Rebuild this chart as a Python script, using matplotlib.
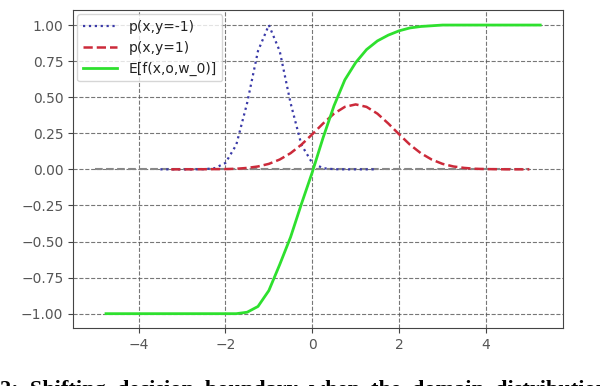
import matplotlib
matplotlib.use("Agg")
import matplotlib.pyplot as plt

# p(x, y=-1): values
x_neg = [-3.5, -3.25, -3.0, -2.75, -2.5, -2.25, -2.0, -1.75, -1.5, -1.25, -1.0,
         -0.75, -0.5, -0.25, 0.0, 0.25, 0.5, 0.75, 1.0, 1.25, 1.5]
p_neg = [0.0, 0.0, 0.0, 0.0, 0.001, 0.008, 0.044, 0.17, 0.46, 0.82, 1.0,
         0.82, 0.46, 0.17, 0.044, 0.008, 0.001, 0.0, 0.0, 0.0, 0.0]

# p(x, y=1): values
x_pos = [-3.25, -3.0, -2.5, -2.0, -1.75, -1.5, -1.25, -1.0, -0.75, -0.5, -0.25, 0.0,
         0.25, 0.5, 0.75, 1.0, 1.25, 1.5, 1.75, 2.0, 2.25, 2.5, 2.75, 3.0,
         3.25, 3.5, 3.75, 4.0, 4.5, 5.0]
p_pos = [0.0, 0.0, 0.001, 0.002, 0.004, 0.01, 0.02, 0.038, 0.068, 0.112, 0.171, 0.243,
         0.318, 0.386, 0.433, 0.45, 0.433, 0.386, 0.318, 0.243, 0.171, 0.112, 0.068, 0.038,
         0.02, 0.01, 0.004, 0.002, 0.0, 0.0]

# E[f(x,o,w_0)]: values
x_exp = [-4.75, -4.0, -3.0, -2.0, -1.75, -1.5, -1.25, -1.0, -0.75, -0.5, -0.25, 0.0,
         0.25, 0.5, 0.75, 1.0, 1.25, 1.5, 1.75, 2.0, 2.25, 2.5, 3.0, 4.0, 5.25]
e_val = [-1.0, -1.0, -1.0, -1.0, -1.0, -0.99, -0.95, -0.84, -0.66, -0.47, -0.24, -0.02,
         0.22, 0.44, 0.62, 0.74, 0.83, 0.89, 0.93, 0.96, 0.98, 0.99, 1.0, 1.0, 1.0]

# zero reference line
x_zero = [-5.0, 5.0]
y_zero = [0.0, 0.0]

labels = ["p(x,y=-1)", "p(x,y=1)", "E[f(x,o,w_0)]"]
caption = "2:  Shifting  decision  boundary  when  the  domain  distribution"

fig = plt.figure(figsize=(6.0, 3.86), dpi=100)
ax = fig.add_axes([0.1217, 0.150, 0.8163, 0.824])

ax.plot(x_zero, y_zero, linestyle="--", color="#888888", linewidth=1.5, zorder=2)
ax.plot(x_neg, p_neg, linestyle=":", color="#3a3aa8", linewidth=1.6, label=labels[0], zorder=3)
ax.plot(x_pos, p_pos, linestyle="--", color="#cc2a3a", linewidth=1.8, label=labels[1], zorder=3)
ax.plot(x_exp, e_val, linestyle="-", color="#2ee02e", linewidth=2.0, label=labels[2], zorder=4)

ax.set_xlim(-5.51, 5.77)
ax.set_ylim(-1.10, 1.104)
ax.set_xticks([-4, -2, 0, 2, 4])
ax.set_yticks([-1.0, -0.75, -0.5, -0.25, 0.0, 0.25, 0.5, 0.75, 1.0])
ax.set_yticklabels(["\u22121.00", "\u22120.75", "\u22120.50", "\u22120.25", "0.00",
                    "0.25", "0.50", "0.75", "1.00"])
ax.set_xticklabels(["\u22124", "\u22122", "0", "2", "4"])
ax.grid(True, linestyle="--", color="#555555", linewidth=0.8, alpha=0.8)
ax.tick_params(labelsize=10, colors="#444444", labelcolor="#555555")
for s in ax.spines.values():
    s.set_color("#444444")

leg = ax.legend(loc="upper left", fontsize=10, framealpha=0.8, handlelength=2.5,
                borderaxespad=0.3)
for t in leg.get_texts():
    t.set_color("#222222")

fig.text(0.0, -0.035, caption, fontsize=16, family="Liberation Serif",
         fontweight="bold", ha="left", va="bottom")

fig.savefig("out.png", dpi=100)
